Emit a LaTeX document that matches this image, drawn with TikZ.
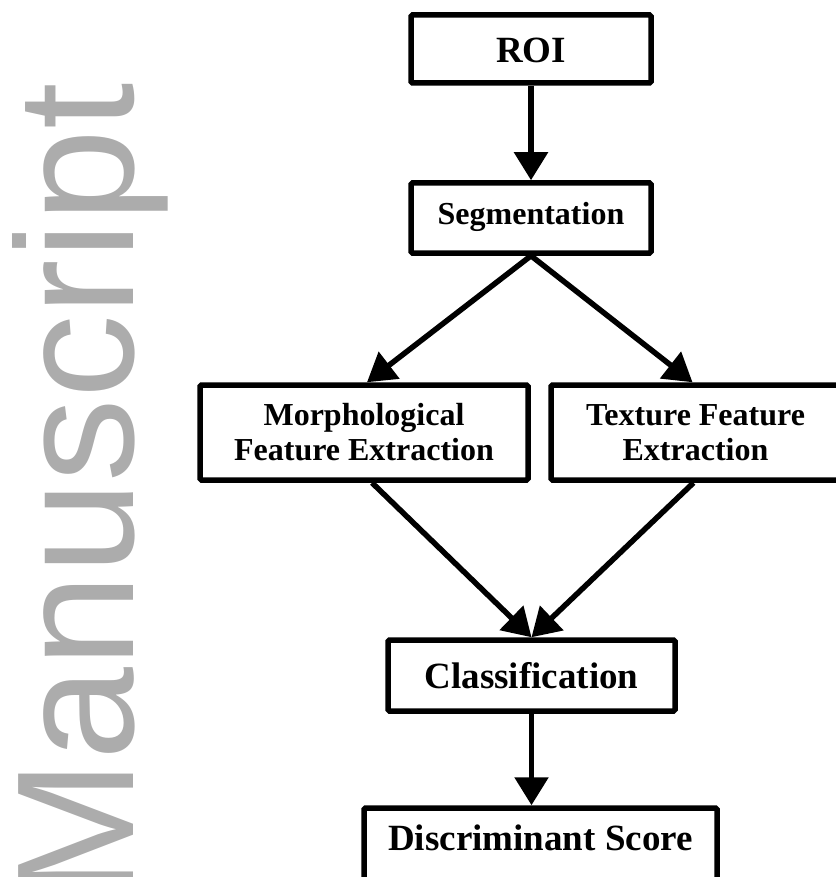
\documentclass[tikz,border=0pt]{standalone}
\usepackage{fontspec}
\setmainfont{Liberation Serif}
\newfontfamily\wmfont{Liberation Sans}
\usetikzlibrary{arrows.meta}
\definecolor{wmgray}{RGB}{172,172,172}
\begin{document}
\begin{tikzpicture}[x=1pt,y=-1pt,
  box/.style={draw, line width=5.5pt, rounded corners=1.5pt, inner sep=0pt, align=center,
    font=\bfseries\fontsize{32}{35}\selectfont},
  big/.style={font=\bfseries\fontsize{37}{40}\selectfont},
  arr/.style={line width=5.5pt, -{Triangle[length=28pt,width=33pt]}}]
\useasboundingbox (0,0) rectangle (835,877);
\node[rotate=90, anchor=base west, inner sep=0pt, text=wmgray,
  font=\wmfont\fontsize{167}{167}\selectfont] (wm) at (133,900) {Manuscript};

\node[box, big, minimum width=240pt, minimum height=68pt, text height=28pt, text depth=0pt] (roi) at (531,49) {ROI};
\node[box, minimum width=240pt, minimum height=70pt, text height=14pt, text depth=0pt] (seg) at (531,218) {Segmentation};
\node[box, minimum width=328pt, minimum height=95pt] (morph) at (364,432.5) {Morphological\\Feature Extraction};
\node[box, minimum width=289pt, minimum height=95pt] (tex) at (695.5,432.5) {Texture Feature\\Extraction};
\node[box, big, minimum width=287pt, minimum height=71pt, text height=25pt, text depth=0pt] (cls) at (531.5,675.5) {Classification};
\node[box, big, minimum width=353pt, minimum height=72pt, text height=12pt, text depth=0pt] (disc) at (540.5,844) {Discriminant Score};

\draw[arr] (roi.south) -- (seg.north);
\draw[arr] (seg.south) -- ([xshift=3pt]morph.north);
\draw[arr] (seg.south) -- ([xshift=-3pt]tex.north);
\draw[arr] ([xshift=8pt]morph.south) -- (cls.north);
\draw[arr] ([xshift=-2pt]tex.south) -- (cls.north);
\draw[arr] (cls.south) -- (cls.south |- disc.north);
\end{tikzpicture}
\end{document}
